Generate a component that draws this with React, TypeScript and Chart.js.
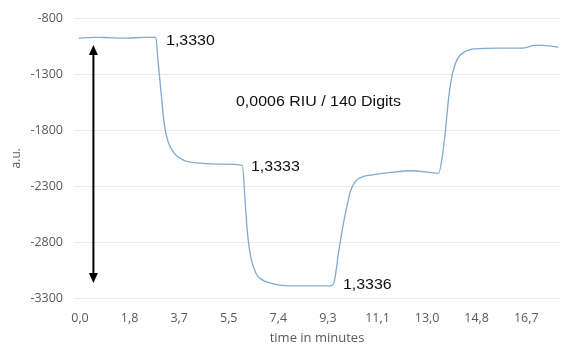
import React, { useEffect, useRef } from "react";
import { Chart, registerables } from "chart.js";

Chart.register(...registerables);

// time in minutes
const TIME = [-0.05, 0.52, 0.89, 1.79, 2.38, 2.76, 2.83, 2.9, 3.02, 3.13, 3.27, 3.5, 3.87, 4.51, 5.36, 6.06, 6.16, 6.25, 6.37, 6.56, 6.8, 7.05, 7.8, 8.67, 9.35, 9.47, 9.66, 9.84, 9.97, 10.09, 10.28, 10.59, 10.96, 11.58, 12.33, 12.95, 13.38, 13.51, 13.63, 13.75, 13.88, 14.07, 14.38, 14.75, 15.62, 16.49, 16.98, 17.23, 17.85];
// signal in a.u.
const SIGNAL = [-976, -968, -970, -976, -968, -968, -968, -1150, -1450, -1720, -1890, -2000, -2068, -2094, -2103, -2115, -2432, -2724, -2933, -3077, -3138, -3162, -3191, -3191, -3191, -3167, -2874, -2620, -2470, -2345, -2256, -2212, -2197, -2177, -2162, -2174, -2185, -2050, -1815, -1521, -1314, -1168, -1094, -1071, -1065, -1065, -1041, -1041, -1056];

const X_TICKS = [0, 1.85, 3.7, 5.55, 7.4, 9.25, 11.1, 12.95, 14.8, 16.65];
const X_TICK_LABELS = ["0,0", "1,8", "3,7", "5,5", "7,4", "9,3", "11,1", "13,0", "14,8", "16,7"];

const ANNOT_TEXT = ["1,3330", "0,0006 RIU / 140 Digits", "1,3333", "1,3336"];
const ANNOT_X = [3.21, 5.82, 6.38, 9.81];
const ANNOT_Y = [-999, -1550, -2132, -3182];

const ARROW_X = 0.5;
const ARROW_FROM = -1036;
const ARROW_TO = -3165;

const annotPlugin = {
  id: "annot",
  afterDatasetsDraw(chart: any) {
    const { ctx, scales } = chart;
    const xs = scales.x;
    const ys = scales.y;
    ctx.save();
    // arrow
    const ax = xs.getPixelForValue(ARROW_X);
    const y1 = ys.getPixelForValue(ARROW_FROM);
    const y2 = ys.getPixelForValue(ARROW_TO);
    const head = 10;
    const hw = 4.5;
    ctx.strokeStyle = "#000";
    ctx.fillStyle = "#000";
    ctx.lineWidth = 2;
    ctx.beginPath();
    ctx.moveTo(ax, y1 + head - 1);
    ctx.lineTo(ax, y2 - head + 1);
    ctx.stroke();
    ctx.beginPath();
    ctx.moveTo(ax, y1);
    ctx.lineTo(ax - hw, y1 + head);
    ctx.lineTo(ax + hw, y1 + head);
    ctx.closePath();
    ctx.fill();
    ctx.beginPath();
    ctx.moveTo(ax, y2);
    ctx.lineTo(ax - hw, y2 - head);
    ctx.lineTo(ax + hw, y2 - head);
    ctx.closePath();
    ctx.fill();
    // texts
    ctx.font = "14px 'Liberation Sans', Arial, sans-serif";
    ctx.textAlign = "left";
    ctx.textBaseline = "middle";
    ctx.fillStyle = "#111";
    for (let i = 0; i < ANNOT_TEXT.length; i++) {
      const px = xs.getPixelForValue(ANNOT_X[i]);
      const py = ys.getPixelForValue(ANNOT_Y[i]);
      ctx.save();
      ctx.translate(px, py);
      ctx.scale(1.14, 1);
      ctx.fillText(ANNOT_TEXT[i], 0, 0);
      ctx.restore();
    }
    ctx.restore();
  },
};

export default function App() {
  const ref = useRef<HTMLCanvasElement | null>(null);
  useEffect(() => {
    if (!ref.current) return;
    const tickFont = { family: "'Open Sans', sans-serif", size: 12.5 };
    const chart = new Chart(ref.current, {
      type: "line",
      data: {
        datasets: [
          {
            data: TIME.map((t, i) => ({ x: t, y: SIGNAL[i] })),
            borderColor: "#80aad0",
            borderWidth: 1.3,
            pointRadius: 0,
            cubicInterpolationMode: "monotone",
            fill: false,
          },
        ],
      },
      options: {
        animation: false,
        responsive: true,
        maintainAspectRatio: false,
        layout: { padding: { left: 0, right: 1, top: 15, bottom: 0 } },
        plugins: { legend: { display: false }, tooltip: { enabled: false } },
        scales: {
          x: {
            type: "linear",
            min: -0.224,
            max: 17.91,
            afterBuildTicks: (scale: any) => {
              scale.ticks = X_TICKS.map((v) => ({ value: v }));
            },
            afterFit: (scale: any) => {
              scale.height = 51;
            },
            ticks: {
              autoSkip: false,
              maxRotation: 0,
              padding: 13,
              color: "#595959",
              font: tickFont,
              callback: (_v: any, i: number) => X_TICK_LABELS[i],
            },
            grid: { display: false, drawTicks: false },
            border: { display: false },
            title: {
              display: true,
              text: "time in minutes",
              color: "#595959",
              font: { family: "'Open Sans', sans-serif", size: 13 },
              padding: { top: 0, bottom: 3 },
            },
          },
          y: {
            min: -3300,
            max: -800,
            afterFit: (scale: any) => {
              scale.width = 74;
            },
            ticks: {
              stepSize: 500,
              padding: 11,
              color: "#595959",
              font: tickFont,
              callback: (v: any) => String(v),
            },
            grid: { color: "#e8e8e8", drawTicks: false },
            border: { display: false },
            title: {
              display: true,
              text: "a.u.",
              color: "#595959",
              font: { family: "'Open Sans', sans-serif", size: 12 },
              padding: { top: 9, bottom: 0 },
            },
          },
        },
      },
      plugins: [annotPlugin],
    } as any);
    return () => chart.destroy();
  }, []);
  return (
    <div style={{ position: "absolute", left: 0, top: 0, width: 561, height: 349 }}>
      <canvas ref={ref} />
    </div>
  );
}
